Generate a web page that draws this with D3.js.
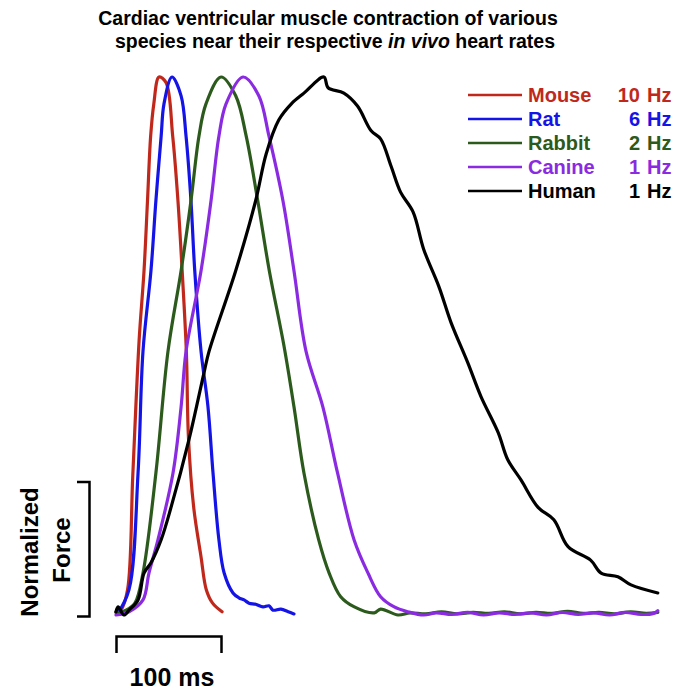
<!DOCTYPE html>
<html>
<head>
<meta charset="utf-8">
<script src="https://cdn.jsdelivr.net/npm/d3@7"></script>
<style>
  html, body { margin: 0; padding: 0; background: #fff; }
  svg { display: block; font-family: "Liberation Sans", Arial, Helvetica, sans-serif; }
</style>
</head>
<body>
<svg id="chart" width="686" height="690"></svg>
<script>
// ---- data (time in ms, normalized force) ----
const mouseTime  = [0, 4.8, 11, 16, 22, 26.7, 30, 33, 36, 41, 47.6, 54, 59, 63, 67, 69, 74, 81, 86, 92, 101];
const mouseForce = [0.006, 0.01, 0.047, 0.26, 0.51, 0.64, 0.77, 0.89, 0.95, 1.0, 0.99, 0.89, 0.77, 0.64, 0.49, 0.33, 0.20, 0.108, 0.047, 0.022, 0.006];

const ratTime  = [2, 12.4, 21, 25.7, 33.3, 38, 43, 45.7, 53.3, 62, 66.7, 71.4, 75, 81, 87.6, 92.4, 98, 103, 111.4, 117, 122, 126.7, 133, 140, 145.7, 149.5, 157, 164, 169.5];
const ratForce = [0.004, 0.047, 0.264, 0.49, 0.64, 0.77, 0.89, 0.95, 1.0, 0.965, 0.89, 0.77, 0.64, 0.49, 0.387, 0.264, 0.14, 0.078, 0.041, 0.032, 0.028, 0.022, 0.020, 0.015, 0.017, 0.009, 0.011, 0.006, 0.002];

const rabbitTime  = [0, 9.5, 18, 25.7, 38, 49.5, 62, 71.4, 79, 85.7, 100, 114, 124, 135, 146, 160, 169.5, 179, 193, 203, 214, 227, 246, 252, 268.6, 280, 295, 310, 325, 340, 355, 370, 385, 400, 415, 430, 445, 460, 475, 490, 505, 516];
const rabbitForce = [0.004, 0.009, 0.022, 0.078, 0.264, 0.49, 0.64, 0.77, 0.89, 0.95, 1.0, 0.965, 0.89, 0.77, 0.64, 0.50, 0.387, 0.264, 0.14, 0.078, 0.034, 0.015, 0.004, 0.011, 0.0, 0.004, 0.002, 0.006, 0.002, 0.005, 0.003, 0.006, 0.002, 0.005, 0.003, 0.007, 0.003, 0.005, 0.002, 0.006, 0.003, 0.005];

const canineTime  = [0, 12.4, 25.7, 31.4, 40, 54.3, 62, 66.7, 81, 90.5, 98, 104.8, 121, 136, 145.7, 159, 169.5, 181, 197, 211, 226.7, 240, 252, 265, 278, 293, 305, 320, 335, 350, 365, 380, 395, 410, 425, 440, 455, 470, 485, 500, 512, 516];
const canineForce = [0.0, 0.006, 0.028, 0.078, 0.14, 0.264, 0.387, 0.49, 0.64, 0.77, 0.89, 0.95, 1.0, 0.965, 0.89, 0.77, 0.64, 0.49, 0.387, 0.264, 0.14, 0.078, 0.034, 0.015, 0.006, 0.0, 0.004, 0.001, 0.005, 0.0, 0.004, 0.001, 0.004, 0.0, 0.005, 0.001, 0.004, 0.0, 0.005, 0.001, 0.003, 0.008];

const humanTime  = [0, 2, 7.6, 12.4, 21, 26.7, 33.3, 43, 52.4, 69.5, 83.8, 88.6, 114, 133, 143, 155, 167, 179, 198, 202, 217, 230, 243, 252, 262, 271, 283, 293, 307.6, 319, 335, 347.6, 364, 373, 385.7, 402, 417, 430.5, 452, 462, 478, 490.5, 516];
const humanForce = [0.006, 0.015, 0.0, 0.009, 0.028, 0.078, 0.097, 0.14, 0.20, 0.326, 0.45, 0.49, 0.64, 0.77, 0.857, 0.92, 0.95, 0.97, 1.0, 0.98, 0.97, 0.946, 0.90, 0.885, 0.834, 0.786, 0.749, 0.68, 0.61, 0.544, 0.469, 0.406, 0.339, 0.289, 0.251, 0.20, 0.177, 0.127, 0.102, 0.078, 0.071, 0.056, 0.041];

const speciesNames = ["Mouse", "Rat", "Rabbit", "Canine", "Human"];
const heartRates   = ["10", "6", "2", "1", "1"];
const speciesColors = ["#c0281c", "#1414e6", "#2c5a1c", "#8a2be2", "#000000"];

const timeBarValue  = 100;   // ms
const forceBarValue = 0.25;  // normalized force

// ---- build ----
const series = [
  {name: speciesNames[0], t: mouseTime,  f: mouseForce},
  {name: speciesNames[1], t: ratTime,    f: ratForce},
  {name: speciesNames[2], t: rabbitTime, f: rabbitForce},
  {name: speciesNames[3], t: canineTime, f: canineForce},
  {name: speciesNames[4], t: humanTime,  f: humanForce}
].map((s, i) => ({...s, color: speciesColors[i], rate: heartRates[i],
   pts: s.t.map((t, j) => [t, s.f[j]])}));

const svg = d3.select("#chart");

const x = d3.scaleLinear().domain([0, 100]).range([116, 221]);
const y = d3.scaleLinear().domain([0, 1]).range([615, 77]);

// title
const title = svg.append("g").attr("font-weight", "bold").attr("font-size", 19.5).attr("fill", "#000");
title.append("text").attr("x", 328).attr("y", 25).attr("text-anchor", "middle")
  .text("Cardiac ventricular muscle contraction of various");
const t2 = title.append("text").attr("x", 335).attr("y", 48).attr("text-anchor", "middle");
t2.append("tspan").text("species near their respective ");
t2.append("tspan").attr("font-style", "italic").text("in vivo");
t2.append("tspan").text(" heart rates");

// curves
const line = d3.line().x(d => x(d[0])).y(d => y(d[1])).curve(d3.curveCatmullRom.alpha(0.5));
svg.append("g").selectAll("path").data(series).join("path")
  .attr("d", d => line(d.pts))
  .attr("fill", "none")
  .attr("stroke", d => d.color)
  .attr("stroke-width", 3.2)
  .attr("stroke-linejoin", "round")
  .attr("stroke-linecap", "round");

// time scale bar (bracket) via axis
const tb = d3.scaleLinear().domain([0, timeBarValue]).range([x(0), x(timeBarValue)]);
const tAxis = svg.append("g").attr("transform", "translate(0,636)")
  .call(d3.axisBottom(tb).tickValues([]).tickSizeOuter(17));
tAxis.select(".domain").attr("stroke", "#000").attr("stroke-width", 2.5);
svg.append("text").attr("x", 172).attr("y", 686).attr("text-anchor", "middle")
  .attr("font-weight", "bold").attr("font-size", 25).text(timeBarValue + " ms");

// force scale bar (bracket) via axis
const fb = d3.scaleLinear().domain([0, forceBarValue]).range([y(0), y(forceBarValue)]);
const fAxis = svg.append("g").attr("transform", "translate(89,1)")
  .call(d3.axisLeft(fb).tickValues([]).tickSizeOuter(12));
fAxis.select(".domain").attr("stroke", "#000").attr("stroke-width", 2.5);
svg.append("text").attr("transform", "translate(38,552) rotate(-90)").attr("text-anchor", "middle")
  .attr("font-weight", "bold").attr("font-size", 24).text("Normalized");
svg.append("text").attr("transform", "translate(70,550) rotate(-90)").attr("text-anchor", "middle")
  .attr("font-weight", "bold").attr("font-size", 24).text("Force");

// legend
const leg = svg.append("g").selectAll("g").data(series).join("g")
  .attr("transform", (d, i) => `translate(0,${95 + i * 24})`);
leg.append("line").attr("x1", 468).attr("x2", 522).attr("y1", 0).attr("y2", 0)
  .attr("stroke", d => d.color).attr("stroke-width", 2.5);
leg.append("text").attr("x", 528).attr("y", 7).attr("font-weight", "bold").attr("font-size", 20)
  .attr("fill", d => d.color).text(d => d.name);
leg.append("text").attr("x", 640).attr("y", 7).attr("text-anchor", "end").attr("font-weight", "bold").attr("font-size", 20)
  .attr("fill", d => d.color).text(d => d.rate);
leg.append("text").attr("x", 647).attr("y", 7).attr("font-weight", "bold").attr("font-size", 20)
  .attr("fill", d => d.color).text("Hz");
</script>
</body>
</html>
